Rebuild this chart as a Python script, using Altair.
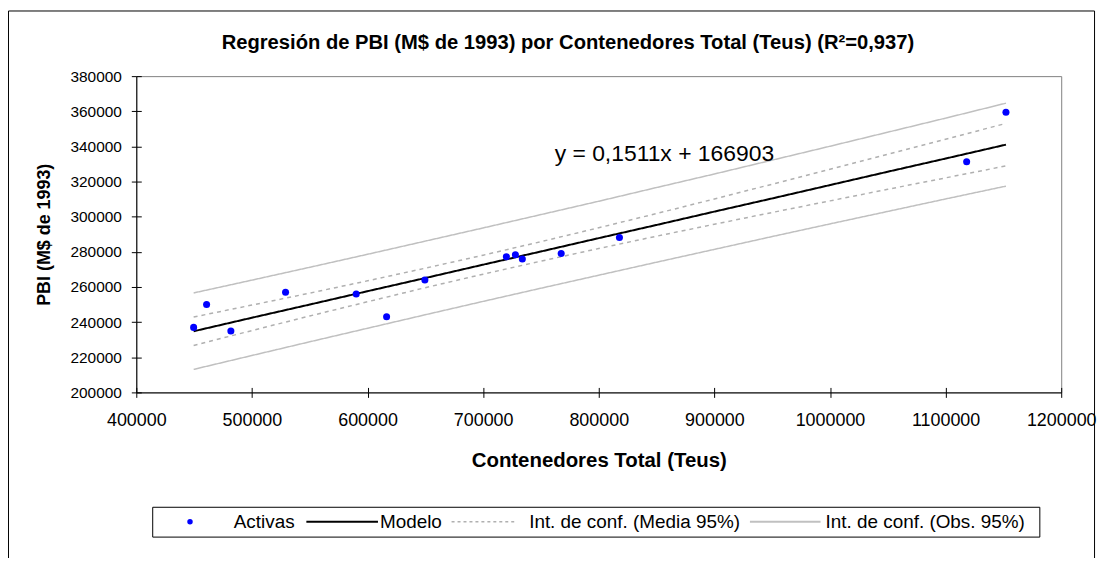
import altair as alt
import pandas as pd

FONT = "Liberation Sans"

obs_x = [449600, 460800, 481800, 529100, 590200, 616500, 649600, 720100, 727900, 733900, 767500, 817900, 1118200, 1152200]
obs_y = [237000, 250000, 234900, 257000, 256000, 243000, 264000, 277200, 278300, 275900, 279100, 288100, 331300, 359500]

grid_x = [449600, 500000, 550000, 600000, 650000, 700000, 750000, 800000, 850000, 900000, 950000, 1000000, 1050000, 1100000, 1152200]
model_y = [234800, 242500, 250000, 257600, 265100, 272700, 280200, 287800, 295300, 302900, 310400, 318000, 325600, 333100, 341000]
mean_hi = [242900, 249700, 256500, 263500, 270700, 278100, 285800, 293700, 301800, 310100, 318500, 327000, 335500, 344100, 353100]
mean_lo = [226700, 235200, 243500, 251600, 259600, 267300, 274700, 281900, 288900, 295700, 302400, 309000, 315600, 322100, 328900]
obs_hi = [256600, 263900, 271200, 278600, 286100, 293600, 301200, 308800, 316600, 324300, 332200, 340100, 348100, 356100, 364600]
obs_lo = [213100, 221000, 228800, 236500, 244200, 251800, 259300, 266700, 274100, 281400, 288700, 295900, 303000, 310100, 317400]

x_ticks = [400000, 500000, 600000, 700000, 800000, 900000, 1000000, 1100000, 1200000]
y_ticks = [200000, 220000, 240000, 260000, 280000, 300000, 320000, 340000, 360000, 380000]

S_ACT = "Activas"
S_MOD = "Modelo"
S_MED = "Int. de conf. (Media 95%)"
S_OBS = "Int. de conf. (Obs. 95%)"
series = [S_ACT, S_MOD, S_MED, S_OBS]
colors = ["#0000ff", "#000000", "#b0b0b0", "#c0c0c0"]
dashes = [[1, 0], [1, 0], [4, 4], [1, 0]]

title_text = "Regresión de PBI (M$ de 1993) por Contenedores Total (Teus) (R²=0,937)"
eq_text = "y = 0,1511x + 166903"

df_pts = pd.DataFrame({"x": obs_x, "y": obs_y, "series": S_ACT})
rows = []
for name, part, ys in [(S_MED, "hi", mean_hi), (S_MED, "lo", mean_lo), (S_OBS, "hi", obs_hi), (S_OBS, "lo", obs_lo)]:
    for xv, yv in zip(grid_x, ys):
        rows.append({"x": xv, "y": yv, "series": name, "part": name + part})
df_bands = pd.DataFrame(rows)
df_model = pd.DataFrame({"x": grid_x, "y": model_y, "series": S_MOD})

xs = alt.Scale(domain=[400000, 1200000], nice=False, zero=False)
ys = alt.Scale(domain=[200000, 380000], nice=False, zero=False)
cs = alt.Scale(domain=series, range=colors)
ds = alt.Scale(domain=series, range=dashes)

ax_x1 = alt.Axis(orient="bottom", values=x_ticks, format="d", labelFont=FONT, labelFontSize=18,
                 labelColor="black", labelPadding=14, labelFlush=False, labelOverlap=False,
                 tickSize=5, tickColor="black", domainColor="black", grid=False,
                 title="Contenedores Total (Teus)", titleFont=FONT, titleFontSize=20.5,
                 titleFontWeight="bold", titleColor="black", titleX=465, titleY=69,
                 titleBaseline="middle", titleAlign="center")
ax_y1 = alt.Axis(orient="left", values=y_ticks, format="d", labelFont=FONT, labelFontSize=15.5,
                 labelColor="black", labelPadding=10, labelOverlap=False,
                 tickSize=5, tickColor="black", domainColor="black", grid=False,
                 title="PBI (M$ de 1993)", titleFont=FONT, titleFontSize=18,
                 titleFontWeight="bold", titleColor="black", titleX=-92, titleY=159,
                 titleAngle=270, titleBaseline="middle", titleAlign="center")
ax_x2 = alt.Axis(orient="bottom", values=x_ticks, offset=-5, tickSize=5, tickColor="black",
                 labels=False, domain=False, grid=False, title=None)
ax_y2 = alt.Axis(orient="left", values=y_ticks, offset=-5, tickSize=5, tickColor="black",
                 labels=False, domain=False, grid=False, title=None)

bands = alt.Chart(df_bands).mark_line(strokeWidth=1.5).encode(
    x=alt.X("x:Q", scale=xs, axis=ax_x1),
    y=alt.Y("y:Q", scale=ys, axis=ax_y1),
    color=alt.Color("series:N", scale=cs, legend=None),
    strokeDash=alt.StrokeDash("series:N", scale=ds, legend=None),
    detail="part:N",
)

model = alt.Chart(df_model).mark_line(strokeWidth=2).encode(
    x=alt.X("x:Q", scale=xs, axis=None),
    y=alt.Y("y:Q", scale=ys, axis=None),
    color=alt.Color("series:N", scale=cs, legend=None),
    strokeDash=alt.StrokeDash("series:N", scale=ds, legend=None),
)

points = alt.Chart(df_pts).mark_circle(size=50, opacity=1).encode(
    x=alt.X("x:Q", scale=xs, axis=ax_x2),
    y=alt.Y("y:Q", scale=ys, axis=ax_y2),
    color=alt.Color("series:N", scale=cs, legend=None),
)

eq = alt.Chart(alt.Data(values=[{"t": eq_text}])).mark_text(
    font=FONT, fontSize=23, align="center", baseline="middle", color="black"
).encode(text="t:N", x=alt.value(531), y=alt.value(78))

title = alt.Chart(alt.Data(values=[{"t": title_text}])).mark_text(
    font=FONT, fontSize=20.3, fontWeight="bold", align="center", baseline="middle", color="black"
).encode(text="t:N", x=alt.value(434), y=alt.value(-33))

border = alt.Chart(alt.Data(values=[{"a": 1}])).mark_rect(
    fillOpacity=0, stroke="black", strokeWidth=1
).encode(x=alt.value(-128.5), x2=alt.value(963.5), y=alt.value(-65.5), y2=alt.value(495))

# ---- legend (drawn as a framed row, like the spreadsheet legend) ----
one = alt.Data(values=[{"a": 1}])
LY = 448
leg_box = alt.Chart(one).mark_rect(fill="white", stroke="black", strokeWidth=1).encode(
    x=alt.value(16.5), x2=alt.value(908.5), y=alt.value(433.5), y2=alt.value(463.5))
leg_dot = alt.Chart(one).mark_circle(size=30, opacity=1, color=colors[0]).encode(
    x=alt.value(54), y=alt.value(LY))
leg_mod = alt.Chart(one).mark_rule(color=colors[1], strokeWidth=2).encode(
    x=alt.value(171), x2=alt.value(243), y=alt.value(LY))
leg_med = alt.Chart(one).mark_rule(color=colors[2], strokeWidth=1.5, strokeDash=[3, 3]).encode(
    x=alt.value(317), x2=alt.value(380), y=alt.value(LY))
leg_obs = alt.Chart(one).mark_rule(color=colors[3], strokeWidth=2).encode(
    x=alt.value(617), x2=alt.value(688), y=alt.value(LY))
leg_texts = []
for label, xpos in zip(series, [98, 245, 395, 693]):
    leg_texts.append(alt.Chart(alt.Data(values=[{"t": label}])).mark_text(
        font=FONT, fontSize=19, align="left", baseline="middle", color="black"
    ).encode(text="t:N", x=alt.value(xpos), y=alt.value(LY)))

chart = alt.layer(border, bands, model, points, eq, title, leg_box, leg_dot, leg_mod, leg_med, leg_obs,
                  *leg_texts).resolve_axis(
    x="independent", y="independent"
).properties(
    width=930, height=318,
    autosize=alt.AutoSizeParams(type="none"),
    padding={"left": 129, "top": 67, "right": 40, "bottom": 165},
    background="white",
).configure_view(stroke="#808080", strokeWidth=1)

chart.save("out.html", embed_options={"renderer": "svg", "actions": False})
